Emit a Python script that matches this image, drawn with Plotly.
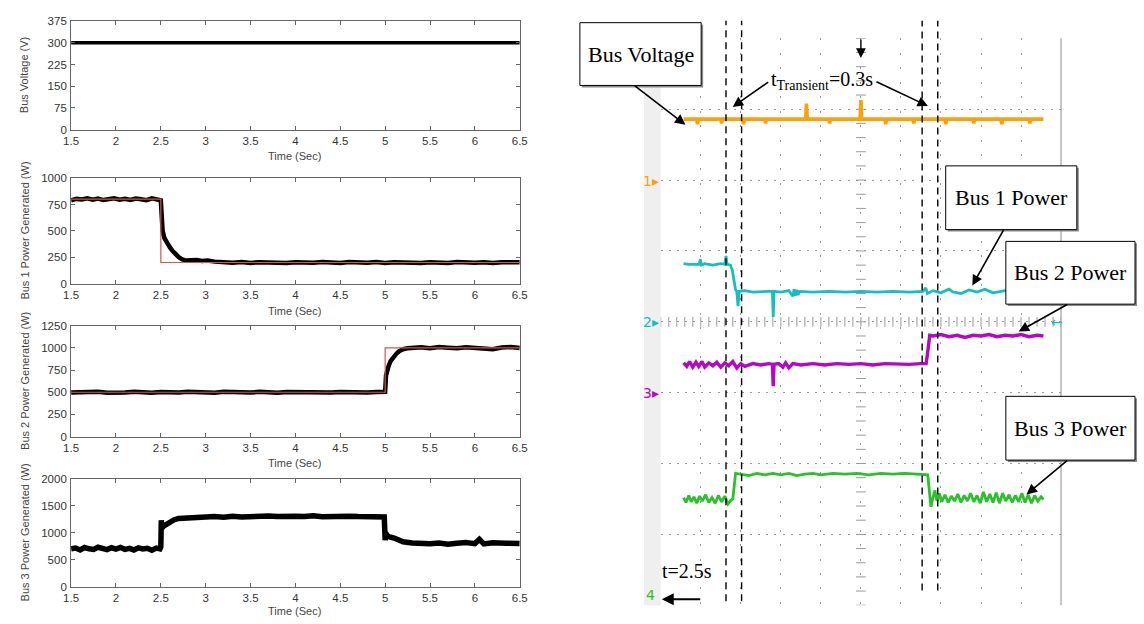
import numpy as np
import plotly.graph_objects as go

W, H = 1144, 624

# ---------------- simulation data (left column) ----------------
t_volt = [1.5, 6.5]
bus_voltage = [300, 300]

t_bus1 = [1.5, 1.56, 1.62, 1.68, 1.74, 1.8, 1.86, 1.92, 1.98, 2.04, 2.1, 2.16, 2.22, 2.28, 2.34, 2.4, 2.46,
          2.49, 2.5, 2.51, 2.52, 2.54, 2.56, 2.58, 2.6, 2.63, 2.66, 2.7, 2.74, 2.78, 2.84, 2.9, 2.96, 3.02,
          3.1, 3.2, 3.3, 3.4, 3.5, 3.6, 3.7, 3.8, 3.9, 4.0, 4.1, 4.2, 4.3, 4.4, 4.5, 4.6, 4.7, 4.8, 4.9, 5.0,
          5.1, 5.2, 5.3, 5.4, 5.5, 5.6, 5.7, 5.8, 5.9, 6.0, 6.1, 6.2, 6.3, 6.4, 6.5]
p_bus1 = [790, 803, 798, 808, 795, 806, 792, 803, 808, 796, 804, 793, 807, 800, 791, 809, 803,
          798, 790, 640, 500, 430, 395, 370, 345, 310, 280, 250, 228, 218, 222, 224, 215, 218,
          208, 202, 198, 204, 196, 203, 199, 205, 195, 203, 200, 197, 205, 199, 194, 204, 200, 198, 205, 195,
          202, 199, 205, 196, 203, 198, 194, 204, 200, 197, 203, 196, 202, 199, 201]
t_bus1_ref = [1.5, 2.5, 2.5, 6.5]
p_bus1_ref = [800, 800, 200, 200]

t_bus2 = [1.5, 1.6, 1.7, 1.8, 1.9, 2.0, 2.1, 2.2, 2.3, 2.4, 2.5, 2.6, 2.7, 2.8, 2.9, 3.0, 3.1, 3.2, 3.3, 3.4,
          3.5, 3.6, 3.7, 3.8, 3.9, 4.0, 4.1, 4.2, 4.3, 4.4, 4.5, 4.6, 4.7, 4.8, 4.9,
          4.95, 4.99, 5.0, 5.01, 5.02, 5.04, 5.06, 5.08, 5.1, 5.13, 5.16, 5.2, 5.25, 5.3,
          5.4, 5.5, 5.6, 5.7, 5.8, 5.9, 6.0, 6.1, 6.2, 6.3, 6.4, 6.5]
p_bus2 = [496, 503, 498, 505, 493, 501, 497, 504, 499, 495, 503, 500, 496, 506, 498, 502, 494, 504, 499, 501,
          496, 504, 498, 494, 502, 500, 497, 505, 499, 496, 503, 498, 501, 496, 503,
          498, 502, 505, 690, 740, 800, 850, 880, 910, 940, 965, 985, 995, 1002,
          1007, 996, 1010, 1003, 995, 1008, 1001, 997, 986, 1005, 1010, 998]
t_bus2_ref = [1.5, 5.0, 5.0, 6.5]
p_bus2_ref = [500, 500, 1000, 1000]

t_bus3 = [1.5, 1.55, 1.6, 1.65, 1.7, 1.75, 1.8, 1.85, 1.9, 1.95, 2.0, 2.05, 2.1, 2.15, 2.2, 2.25, 2.3, 2.35, 2.4, 2.45,
          2.49, 2.5, 2.505, 2.51, 2.53, 2.56, 2.6, 2.65, 2.7, 2.75, 2.8,
          2.9, 3.0, 3.1, 3.2, 3.3, 3.4, 3.5, 3.6, 3.7, 3.8, 3.9, 4.0, 4.1, 4.2, 4.3, 4.4, 4.5, 4.6, 4.7, 4.8, 4.9,
          4.95, 4.99, 5.0, 5.005, 5.02, 5.05, 5.1, 5.15, 5.2, 5.3,
          5.4, 5.5, 5.6, 5.7, 5.8, 5.9, 6.0, 6.05, 6.1, 6.2, 6.35, 6.5]
p_bus3 = [700, 715, 680, 725, 700, 690, 730, 705, 685, 720, 695, 725, 690, 710, 680, 720, 700, 712, 675, 715,
          700, 740, 1230, 1080, 1120, 1150, 1200, 1240, 1265, 1270, 1280,
          1278, 1290, 1298, 1285, 1305, 1292, 1302, 1290, 1310, 1298, 1290, 1306, 1300, 1312, 1295, 1303, 1290,
          1306, 1298, 1288, 1302,
          1298, 1290, 860, 1000, 950, 920, 900, 860, 830, 810,
          800, 795, 808, 785, 803, 818, 797, 875, 792, 812, 806, 800]

y_ranges = [[0, 375], [0, 1000], [0, 1250], [0, 2000]]
y_dticks = [75, 250, 250, 500]
y_titles = ["Bus Voltage (V)", "Bus 1 Power Generated (W)",
            "Bus 2 Power Generated (W)", "Bus 3 Power Generated (W)"]
x_title = "Time (Sec)"

# ---------------- oscilloscope data (right), (time div, level div) ----------------
scope_voltage = [(0.57, 6.86), (0.9, 6.86), (0.92, 6.79), (0.94, 6.86), (1.3, 6.86), (1.5, 6.86), (1.52, 6.80),
                 (1.54, 6.86), (2.05, 6.86), (2.07, 6.79), (2.09, 6.86), (2.6, 6.86), (2.62, 6.80), (2.64, 6.86),
                 (3.62, 6.86), (3.64, 7.08), (3.66, 6.86), (4.2, 6.86), (4.22, 6.80), (4.24, 6.86),
                 (4.98, 6.86), (5.0, 7.13), (5.02, 6.86), (5.6, 6.86), (5.62, 6.79), (5.64, 6.86),
                 (6.3, 6.86), (6.32, 6.80), (6.34, 6.86), (7.1, 6.86), (7.12, 6.79), (7.14, 6.86),
                 (7.8, 6.86), (7.82, 6.80), (7.84, 6.86), (8.5, 6.86), (8.52, 6.79), (8.54, 6.86),
                 (9.2, 6.86), (9.22, 6.80), (9.24, 6.86), (9.56, 6.86)]
scope_bus1 = [(0.57, 4.82), (0.7, 4.81), (0.96, 4.81), (0.99, 4.88), (1.02, 4.80), (1.1, 4.82), (1.3, 4.80),
              (1.5, 4.82), (1.6, 4.81), (1.63, 4.93), (1.66, 4.81), (1.74, 4.80), (1.79, 4.72), (1.83, 4.55),
              (1.87, 4.45), (1.9, 4.43), (1.93, 4.22), (1.96, 4.43), (2.1, 4.44), (2.3, 4.42), (2.5, 4.43),
              (2.7, 4.43), (2.79, 4.43), (2.81, 4.07), (2.83, 4.43), (3.0, 4.42), (3.2, 4.44), (3.3, 4.36),
              (3.33, 4.46), (3.36, 4.37), (3.4, 4.45), (3.43, 4.38), (3.47, 4.43), (3.8, 4.42), (4.2, 4.43),
              (4.6, 4.42), (5.0, 4.43), (5.4, 4.42), (5.8, 4.43), (6.2, 4.42), (6.55, 4.43), (6.62, 4.48),
              (6.66, 4.40), (6.8, 4.44), (7.0, 4.41), (7.2, 4.46), (7.3, 4.42), (7.5, 4.40), (7.7, 4.45),
              (7.9, 4.42), (8.1, 4.46), (8.3, 4.41), (8.6, 4.44), (9.0, 4.42), (9.3, 4.43), (9.56, 4.43)]
scope_bus2 = [(0.57, 3.42), (0.65, 3.37), (0.72, 3.44), (0.8, 3.36), (0.88, 3.43), (0.95, 3.37), (1.03, 3.44),
              (1.1, 3.36), (1.2, 3.42), (1.3, 3.38), (1.4, 3.43), (1.5, 3.36), (1.6, 3.42), (1.7, 3.38),
              (1.8, 3.44), (1.9, 3.35), (2.0, 3.41), (2.1, 3.37), (2.3, 3.41), (2.5, 3.39), (2.7, 3.41),
              (2.79, 3.40), (2.81, 3.09), (2.83, 3.40), (2.95, 3.41), (3.05, 3.36), (3.12, 3.42), (3.2, 3.35),
              (3.3, 3.41), (3.5, 3.39), (3.8, 3.41), (4.1, 3.39), (4.4, 3.41), (4.7, 3.40), (5.0, 3.41),
              (5.3, 3.39), (5.6, 3.41), (5.9, 3.40), (6.2, 3.40), (6.5, 3.41), (6.63, 3.41), (6.68, 3.62),
              (6.72, 3.81), (6.8, 3.80), (7.0, 3.82), (7.2, 3.79), (7.4, 3.81), (7.6, 3.78), (7.8, 3.81),
              (8.0, 3.80), (8.2, 3.82), (8.4, 3.79), (8.6, 3.81), (8.8, 3.80), (9.0, 3.82), (9.2, 3.79),
              (9.4, 3.81), (9.56, 3.80)]
scope_bus3 = [(0.57, 1.52), (0.63, 1.45), (0.7, 1.55), (0.76, 1.46), (0.83, 1.53), (0.9, 1.44), (0.97, 1.54),
              (1.04, 1.47), (1.12, 1.56), (1.2, 1.45), (1.28, 1.52), (1.36, 1.44), (1.44, 1.55), (1.52, 1.46),
              (1.6, 1.54), (1.68, 1.43), (1.75, 1.48), (1.8, 1.50), (1.87, 1.86), (2.0, 1.85), (2.2, 1.83),
              (2.4, 1.86), (2.6, 1.84), (2.8, 1.86), (3.0, 1.84), (3.2, 1.86), (3.4, 1.83), (3.6, 1.85),
              (3.8, 1.86), (4.0, 1.84), (4.3, 1.86), (4.6, 1.85), (4.9, 1.86), (5.2, 1.84), (5.5, 1.86),
              (5.8, 1.85), (6.1, 1.86), (6.4, 1.85), (6.67, 1.84), (6.72, 1.55), (6.75, 1.39), (6.8, 1.52),
              (6.85, 1.62), (6.9, 1.47), (6.96, 1.58), (7.02, 1.46), (7.1, 1.56), (7.18, 1.45), (7.26, 1.54),
              (7.34, 1.47), (7.42, 1.57), (7.5, 1.45), (7.58, 1.55), (7.66, 1.47), (7.74, 1.58), (7.82, 1.46),
              (7.9, 1.55), (7.98, 1.44), (8.06, 1.60), (8.14, 1.46), (8.22, 1.57), (8.3, 1.45), (8.38, 1.59),
              (8.46, 1.44), (8.54, 1.58), (8.62, 1.47), (8.7, 1.56), (8.78, 1.45), (8.86, 1.55), (8.94, 1.46),
              (9.02, 1.58), (9.1, 1.45), (9.18, 1.56), (9.26, 1.44), (9.34, 1.55), (9.42, 1.47), (9.5, 1.53),
              (9.56, 1.49)]

cursor_x = [1.63, 2.02, 6.53, 6.92]

box_labels = ["Bus Voltage", "Bus 1 Power", "Bus 2 Power", "Bus 3 Power"]
transient_label = "t<sub>Transient</sub>=0.3s"
start_label = "t=2.5s"

C_ORANGE, C_CYAN, C_MAG, C_GREEN = "#F9A20E", "#17BEBE", "#B20AC2", "#2CC02C"


def px(x):
    return x / W


def py(y):
    return 1 - y / H


fig = go.Figure()

# ---------------- left panels ----------------
left_dom = [64 / W, 519 / W]
panel_px = [(15.5, 126), (175.5, 283), (326, 439), (482, 592)]
axis_common = dict(showline=True, linecolor="#666", linewidth=1, mirror="ticks", ticks="inside",
                   ticklen=4, tickcolor="#666", showgrid=False, zeroline=False,
                   tickfont=dict(family="Liberation Sans", size=11.5, color="#333"))

for i, (top, bot) in enumerate(panel_px):
    n = "" if i == 0 else str(i + 1)
    fig.layout["xaxis" + n] = dict(domain=left_dom, anchor="y" + n, range=[1.5, 6.5],
                                   tick0=1.5, dtick=0.5, ticklabelstandoff=1, **axis_common)
    fig.layout["yaxis" + n] = dict(domain=[py(bot), py(top)], anchor="x" + n,
                                   range=y_ranges[i], dtick=y_dticks[i], ticklabelstandoff=1, **axis_common)

fig.add_trace(go.Scatter(x=t_volt, y=bus_voltage, mode="lines", line=dict(color="black", width=3.5),
                         xaxis="x", yaxis="y"))
fig.add_trace(go.Scatter(x=t_bus1, y=p_bus1, mode="lines", line=dict(color="black", width=4.5),
                         xaxis="x2", yaxis="y2"))
fig.add_trace(go.Scatter(x=t_bus1_ref, y=p_bus1_ref, mode="lines", line=dict(color="#D9534F", width=1.2),
                         xaxis="x2", yaxis="y2"))
fig.add_trace(go.Scatter(x=t_bus2, y=p_bus2, mode="lines", line=dict(color="black", width=4.5),
                         xaxis="x3", yaxis="y3"))
fig.add_trace(go.Scatter(x=t_bus2_ref, y=p_bus2_ref, mode="lines", line=dict(color="#D9534F", width=1.2),
                         xaxis="x3", yaxis="y3"))
fig.add_trace(go.Scatter(x=t_bus3, y=p_bus3, mode="lines", line=dict(color="black", width=5.5),
                         xaxis="x4", yaxis="y4"))

annotations = []


def note(xp, yp, text, size, color="black", family="Liberation Serif", **kw):
    d = dict(x=px(xp), y=py(yp), xref="paper", yref="paper", text=text, showarrow=False,
             xanchor="center", yanchor="middle", font=dict(family=family, size=size, color=color))
    d.update(kw)
    return d


xt_pos = [153, 311, 466, 617]
for i, (top, bot) in enumerate(panel_px):
    annotations.append(note(17, (top + bot) / 2, y_titles[i], 11, "#444", "Liberation Sans", textangle=-90))
    annotations.append(note(291, xt_pos[i], x_title, 11, "#444", "Liberation Sans"))

# ---------------- oscilloscope ----------------
fig.layout["xaxis5"] = dict(domain=[662 / W, 1068 / W], anchor="y5", range=[0, 10], dtick=1,
                            showticklabels=False, showline=False, zeroline=False, ticks="",
                            showgrid=True, gridcolor="#9a9a9a", gridwidth=1, griddash="2px,12.45px")
fig.layout["yaxis5"] = dict(domain=[py(611), py(33)], anchor="x5", range=[0, 8], dtick=1,
                            showticklabels=False, showline=False, zeroline=False, ticks="",
                            showgrid=True, gridcolor="#9a9a9a", gridwidth=1, griddash="2px,6.12px")

# centre graticule ticks
cx = np.arange(0, 10.001, 0.2)
cy = np.arange(0, 8.001, 0.2)
fig.add_trace(go.Scatter(x=cx, y=[4] * len(cx), mode="markers", xaxis="x5", yaxis="y5",
                         marker=dict(symbol="line-ns", size=7, line=dict(color="#9a9a9a", width=1))))
fig.add_trace(go.Scatter(x=[5] * len(cy), y=cy, mode="markers", xaxis="x5", yaxis="y5",
                         marker=dict(symbol="line-ew", size=7, line=dict(color="#9a9a9a", width=1))))

for series, col, wd in [(scope_voltage, C_ORANGE, 3.6), (scope_bus1, C_CYAN, 2.8),
                        (scope_bus2, C_MAG, 3.4), (scope_bus3, C_GREEN, 2.8)]:
    xs = [p[0] for p in series]
    ys = [p[1] for p in series]
    fig.add_trace(go.Scatter(x=xs, y=ys, mode="lines", line=dict(color=col, width=wd),
                             xaxis="x5", yaxis="y5"))

shapes = []
shapes.append(dict(type="rect", xref="paper", yref="paper", x0=px(645), x1=px(662), y0=py(611), y1=py(33),
                   fillcolor="#efefef", line=dict(width=0), layer="below"))
shapes.append(dict(type="line", xref="paper", yref="paper", x0=px(1068), x1=px(1068), y0=py(611), y1=py(33),
                   line=dict(color="#c4c4c4", width=2), layer="below"))

cursor_bottom = [607, 607, 596, 596]
for xc, yb in zip(cursor_x, cursor_bottom):
    shapes.append(dict(type="line", xref="x5", yref="paper", x0=xc, x1=xc, y0=py(yb), y1=py(15),
                       line=dict(color="black", width=1.4, dash="7px,5px"), layer="above"))

boxes = [(580, 17, 703, 81), (951, 163, 1084, 228), (1012, 240, 1143, 304), (1012, 398, 1143, 463)]
for (x0, y0, x1, y1), txt in zip(boxes, box_labels):
    shapes.append(dict(type="rect", xref="paper", yref="paper", x0=px(x0 + 2), x1=px(x1 + 2),
                       y0=py(y1 + 2), y1=py(y0 + 2), fillcolor="#8a8a8a", line=dict(width=0), layer="above"))
    shapes.append(dict(type="rect", xref="paper", yref="paper", x0=px(x0), x1=px(x1),
                       y0=py(y1), y1=py(y0), fillcolor="white", line=dict(color="black", width=1),
                       layer="above"))
    annotations.append(note((x0 + x1) / 2, (y0 + y1) / 2, txt, 22))


def arrow(tail, head, width=1.6, size=1.3):
    return dict(x=px(head[0]), y=py(head[1]), xref="paper", yref="paper",
                ax=tail[0] - head[0], ay=tail[1] - head[1], axref="pixel", ayref="pixel",
                showarrow=True, arrowhead=2, arrowsize=size, arrowwidth=width,
                arrowcolor="black", text="", standoff=0)


annotations += [
    arrow((635, 81), (687, 121)),
    arrow((772, 77), (735, 103)),
    arrow((880, 77), (933, 102)),
    arrow((865, 33), (865, 53), width=1.4, size=1.4),
    arrow((1010, 228), (978, 285)),
    arrow((1075, 304), (1025, 332)),
    arrow((1075, 463), (1033, 498)),
    arrow((703, 605), (663, 605), width=2, size=1.2),
]

annotations.append(note(826, 76, transient_label, 20))
annotations.append(note(689, 576, start_label, 20))

for txt, ypx, col in [("1▸", 178, C_ORANGE), ("2▸", 322, C_CYAN), ("3▸", 395, C_MAG), ("4", 601, C_GREEN)]:
    annotations.append(note(652, ypx, txt, 14, col, "DejaVu Sans"))
annotations.append(note(1064, 322, "←", 14, C_CYAN, "DejaVu Sans"))

fig.update_layout(width=W, height=H, margin=dict(l=0, r=0, t=0, b=0), showlegend=False,
                  paper_bgcolor="white", plot_bgcolor="white", shapes=shapes, annotations=annotations,
                  hovermode=False)

fig.write_html("out.html", config={"displayModeBar": False},
               post_script="document.body.style.margin='0px';")
